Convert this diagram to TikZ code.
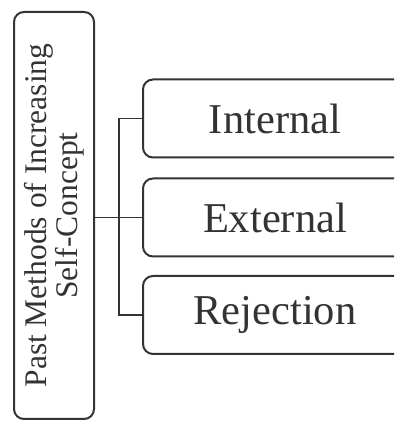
\documentclass[tikz,border=0pt]{standalone}
\usepackage{fontspec}
\setmainfont{Liberation Serif}
\definecolor{ink}{HTML}{333333}
\tikzset{
  leftbox/.style={draw=ink, line width=2pt, rounded corners=10pt, rotate=90,
    minimum width=407pt, minimum height=80pt, inner sep=0pt, align=center,
    text=ink, font=\fontsize{31.5}{31}\selectfont},
  itembox/.style={draw=ink, line width=2pt, rounded corners=10pt,
    minimum width=264pt, minimum height=78pt, inner sep=0pt,
    text=ink, font=\fontsize{42.5}{48}\selectfont},
  conn/.style={draw=ink, line width=1.6pt}
}
\begin{document}
\begin{tikzpicture}[x=1pt,y=1pt]
\useasboundingbox (0,0) rectangle (394,422);
\clip (0,0) rectangle (394,422);
\node[leftbox] (L) at (54,206.5) {Past Methods of Increasing\\Self-Concept};
\node[itembox] (I) at (275,303.5) {Internal};
\node[itembox] (E) at (275,204.5) {External};
\node[itembox] (R) at (275,107) {Rejection};
\draw[conn] (L.south |- E.west) -- (E.west);
\draw[conn] (I.west) -- ++(-23,0) |- (R.west);
\end{tikzpicture}
\end{document}
